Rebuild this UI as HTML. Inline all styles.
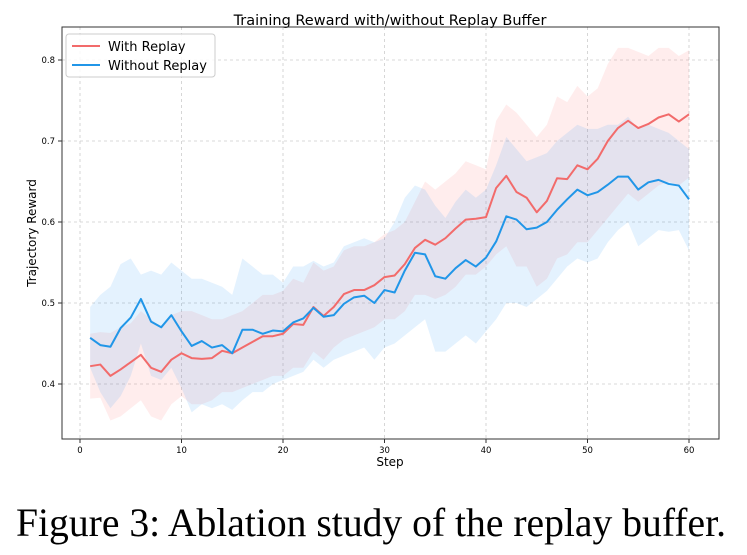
<!DOCTYPE html>
<html><head><meta charset="utf-8"><style>
html,body{margin:0;padding:0;background:#fff;width:747px;height:555px;overflow:hidden}
svg text{font-family:"DejaVu Sans","Liberation Sans",sans-serif}
</style></head><body>
<svg id="chart" width="747" height="555" xmlns="http://www.w3.org/2000/svg">
<text x="390" y="25" text-anchor="middle" font-size="14.5">Training Reward with/without Replay Buffer</text>
<g id="grid"></g>
<g id="bands"></g>
<g id="lines"></g>
<rect x="62" y="27" width="657" height="412" fill="none" stroke="#333" stroke-width="1"/>
<g id="ticks"></g>
<text x="390" y="466" text-anchor="middle" font-size="12">Step</text>
<text transform="translate(36,233) rotate(-90)" text-anchor="middle" font-size="12">Trajectory Reward</text>
<g>
<rect x="66" y="34" width="149" height="43" rx="3" fill="#fff" fill-opacity="0.85" stroke="#ccc"/>
<line x1="72" y1="46" x2="100" y2="46" stroke="#f26b6b" stroke-width="2"/>
<text x="108" y="51" font-size="13">With Replay</text>
<line x1="72" y1="65" x2="100" y2="65" stroke="#2196e8" stroke-width="2"/>
<text x="108" y="70" font-size="13">Without Replay</text>
</g>
<text x="371" y="536" text-anchor="middle" font-size="40" textLength="710" lengthAdjust="spacingAndGlyphs" style="font-family:'Liberation Serif',serif">Figure 3: Ablation study of the replay buffer.</text>
</svg>
<script>
const steps=Array.from({length:60},(_,i)=>i+1);
const redMean=[0.422,0.424,0.410,0.418,0.427,0.436,0.420,0.415,0.430,0.438,0.432,0.431,0.432,0.441,0.438,0.445,0.452,0.459,0.459,0.462,0.474,0.473,0.495,0.484,0.495,0.511,0.516,0.516,0.522,0.532,0.534,0.548,0.568,0.578,0.572,0.580,0.592,0.603,0.604,0.606,0.642,0.657,0.637,0.630,0.612,0.626,0.654,0.653,0.670,0.665,0.678,0.700,0.716,0.725,0.716,0.721,0.729,0.733,0.724,0.733];
const redUpper=[0.462,0.464,0.463,0.47,0.475,0.49,0.48,0.47,0.485,0.49,0.49,0.485,0.48,0.48,0.485,0.49,0.5,0.51,0.51,0.515,0.53,0.525,0.55,0.54,0.545,0.565,0.57,0.57,0.575,0.585,0.59,0.6,0.625,0.65,0.64,0.65,0.66,0.675,0.67,0.665,0.725,0.745,0.735,0.72,0.705,0.72,0.755,0.748,0.768,0.755,0.765,0.795,0.815,0.815,0.81,0.805,0.815,0.815,0.805,0.812];
const redLower=[0.382,0.383,0.355,0.36,0.37,0.38,0.36,0.355,0.375,0.385,0.375,0.375,0.38,0.39,0.39,0.395,0.4,0.405,0.41,0.41,0.42,0.42,0.44,0.43,0.445,0.455,0.46,0.465,0.47,0.48,0.48,0.49,0.51,0.51,0.505,0.51,0.52,0.535,0.535,0.545,0.56,0.57,0.545,0.545,0.52,0.53,0.555,0.56,0.575,0.575,0.59,0.605,0.62,0.635,0.625,0.635,0.645,0.65,0.645,0.655];
const blueMean=[0.457,0.448,0.446,0.469,0.482,0.505,0.477,0.470,0.485,0.465,0.447,0.453,0.445,0.448,0.438,0.467,0.467,0.462,0.466,0.465,0.476,0.481,0.494,0.483,0.485,0.499,0.507,0.509,0.500,0.516,0.513,0.540,0.562,0.560,0.533,0.530,0.543,0.553,0.545,0.556,0.576,0.607,0.603,0.591,0.593,0.600,0.615,0.628,0.640,0.633,0.637,0.646,0.656,0.656,0.640,0.649,0.652,0.647,0.645,0.628];
const blueUpper=[0.495,0.51,0.52,0.548,0.555,0.535,0.54,0.535,0.55,0.54,0.53,0.53,0.525,0.52,0.51,0.555,0.545,0.535,0.535,0.525,0.545,0.545,0.552,0.545,0.55,0.57,0.575,0.58,0.575,0.58,0.6,0.63,0.645,0.64,0.62,0.605,0.625,0.64,0.63,0.64,0.67,0.705,0.69,0.675,0.68,0.685,0.7,0.71,0.72,0.715,0.715,0.72,0.72,0.73,0.715,0.72,0.715,0.71,0.7,0.69];
const blueLower=[0.42,0.39,0.37,0.385,0.41,0.45,0.41,0.405,0.42,0.395,0.365,0.375,0.37,0.375,0.368,0.38,0.39,0.39,0.4,0.405,0.41,0.415,0.43,0.42,0.43,0.435,0.44,0.445,0.43,0.445,0.45,0.46,0.47,0.48,0.44,0.44,0.45,0.46,0.45,0.465,0.48,0.5,0.5,0.495,0.505,0.515,0.53,0.545,0.555,0.55,0.555,0.575,0.59,0.6,0.57,0.58,0.59,0.588,0.59,0.565];
const xTicks=[0,10,20,30,40,50,60];
const yTicks=[0.4,0.5,0.6,0.7,0.8];
const NS='http://www.w3.org/2000/svg';
const xs=v=>80+v*(609/60);
const ys=v=>384-(v-0.4)*810;
function mk(parent,tag,attrs){const e=document.createElementNS(NS,tag);for(const k in attrs)e.setAttribute(k,attrs[k]);document.getElementById(parent).appendChild(e);return e;}
xTicks.forEach(t=>{
  const g=mk('grid','line',{x1:xs(t),x2:xs(t),y1:27,y2:439,stroke:'#ccc','stroke-dasharray':'3,3','stroke-width':0.8});
  
  
  const tk=mk('ticks','line',{x1:xs(t),x2:xs(t),y1:439,y2:443,stroke:'#333'});
  
  
  const tx=mk('ticks','text',{x:xs(t),y:453,'text-anchor':'middle','font-size':8.5});
  tx.textContent=t;
  
  
});
yTicks.forEach(t=>{
  const g=mk('grid','line',{x1:62,x2:719,y1:ys(t),y2:ys(t),stroke:'#ccc','stroke-dasharray':'3,3','stroke-width':0.8});
  
  
  const tk=mk('ticks','line',{x1:58,x2:62,y1:ys(t),y2:ys(t),stroke:'#333'});
  
  
  const tx=mk('ticks','text',{x:55,y:ys(t)+3,'text-anchor':'end','font-size':8.5});
  tx.textContent=t.toFixed(1);
  
  
});
function band(up,lo,color,name){
  let d='M'+steps.map((s,i)=>xs(s)+','+ys(up[i])).join('L');
  d+='L'+steps.slice().reverse().map((s,j)=>{const i=steps.length-1-j;return xs(s)+','+ys(lo[i]);}).join('L')+'Z';
  const p=mk('bands','path',{d:d,fill:color,'fill-opacity':0.12});
  
  
}
function line(vals,color,name){
  const p=mk('lines','path',{d:'M'+steps.map((s,i)=>xs(s)+','+ys(vals[i])).join('L'),fill:'none',stroke:color,'stroke-width':2,'stroke-linejoin':'round'});
  
  
}
band(redUpper,redLower,'#ff6b6b','with-replay-band');
band(blueUpper,blueLower,'#2196f3','without-replay-band');
line(redMean,'#f26b6b','with-replay-line');
line(blueMean,'#2196e8','without-replay-line');
</script>
</body></html>
